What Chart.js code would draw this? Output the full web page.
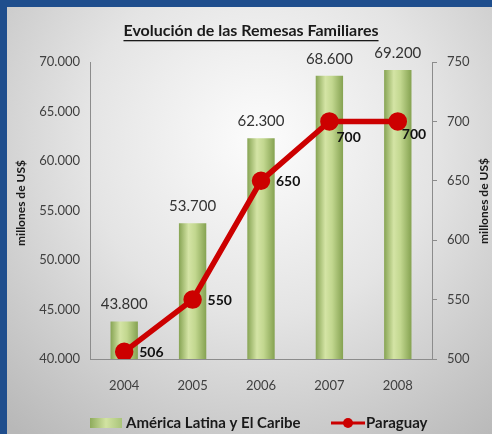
<!DOCTYPE html>
<html>
<head>
<meta charset="utf-8">
<script src="https://cdn.jsdelivr.net/npm/chart.js@4/dist/chart.umd.min.js"></script>
<style>
  html, body { margin: 0; padding: 0; background: #1f4e8d; }
  #wrap { width: 492px; height: 434px; }
</style>
</head>
<body>
<div id="wrap"><canvas id="remesasChart" width="492" height="434"></canvas></div>
<script>
// datos del gráfico
const years = ['2004', '2005', '2006', '2007', '2008'];
const latamValues = [43800, 53700, 62300, 68600, 69200];
const paraguayValues = [506, 550, 650, 700, 700];
const leftTicks = [40000, 45000, 50000, 55000, 60000, 65000, 70000];
const rightTicks = [500, 550, 600, 650, 700, 750];
// posición de la etiqueta de cada punto rojo
const paraguayLabelPos = ['right', 'right', 'right', 'below', 'below'];

const FONT = 'Lato, "Open Sans", sans-serif';

// separador de miles con punto
function fmt(n) {
  return String(n).replace(/\B(?=(\d{3})+(?!\d))/g, '.');
}

// fondo: marco azul + degradado gris
const fondo = {
  id: 'fondo',
  beforeDraw(chart) {
    const ctx = chart.ctx;
    ctx.save();
    ctx.fillStyle = '#1f4e8d';
    ctx.fillRect(0, 0, chart.width, chart.height);
    const g = ctx.createRadialGradient(260, 140, 10, 260, 140, 380);
    g.addColorStop(0, '#fbfbfb');
    g.addColorStop(0.45, '#e4e4e4');
    g.addColorStop(1, '#b8b8b8');
    ctx.fillStyle = g;
    ctx.fillRect(7, 7, chart.width - 7, chart.height - 7);
    ctx.restore();
  }
};

// textos: título, ejes, etiquetas de datos y leyenda
const textos = {
  id: 'textos',
  afterDraw(chart) {
    const ctx = chart.ctx;
    ctx.save();

    // título subrayado
    ctx.font = 'bold 16px ' + FONT;
    ctx.fillStyle = '#1a1a1a';
    ctx.textAlign = 'center';
    ctx.textBaseline = 'middle';
    const title = 'Evolución de las Remesas Familiares';
    ctx.fillText(title, 251, 31);
    const tw = ctx.measureText(title).width;
    ctx.fillRect(251 - tw / 2, 40, tw, 1.3);

    // títulos de ejes (ambos de abajo hacia arriba)
    ctx.font = 'bold 12px ' + FONT;
    [[21, 203], [484, 201]].forEach(([x, y]) => {
      ctx.save();
      ctx.translate(x, y);
      ctx.rotate(-Math.PI / 2);
      ctx.fillText('millones de US$', 0, 0);
      ctx.restore();
    });

    // etiquetas de barras
    const barMeta = chart.getDatasetMeta(0);
    ctx.font = '15px ' + FONT;
    ctx.fillStyle = '#333333';
    barMeta.data.forEach((bar, i) => {
      ctx.fillText(fmt(latamValues[i]), bar.x, bar.y - 17);
    });

    // etiquetas de la línea
    const lineMeta = chart.getDatasetMeta(1);
    ctx.font = 'bold 14px ' + FONT;
    ctx.fillStyle = '#111111';
    ctx.textAlign = 'left';
    lineMeta.data.forEach((pt, i) => {
      if (paraguayLabelPos[i] === 'right') {
        ctx.fillText(paraguayValues[i], pt.x + 15, pt.y + 1);
      } else {
        ctx.fillText(paraguayValues[i], pt.x + (i === 4 ? 4 : 7), pt.y + (i === 4 ? 13 : 16));
      }
    });

    // leyenda
    const ly = 423;
    const sw = ctx.createLinearGradient(90, 0, 122, 0);
    sw.addColorStop(0, '#8eab5c');
    sw.addColorStop(0.5, '#d2e3a2');
    sw.addColorStop(1, '#a9c47a');
    ctx.fillStyle = sw;
    ctx.fillRect(90, ly - 5, 32, 10);
    ctx.font = 'bold 15px ' + FONT;
    ctx.fillStyle = '#1a1a1a';
    ctx.fillText('América Latina y El Caribe', 126, ly);
    ctx.strokeStyle = '#cc0000';
    ctx.lineWidth = 3;
    ctx.beginPath();
    ctx.moveTo(331, ly);
    ctx.lineTo(365, ly);
    ctx.stroke();
    ctx.fillStyle = '#cc0000';
    ctx.beginPath();
    ctx.arc(348, ly, 5, 0, Math.PI * 2);
    ctx.fill();
    ctx.fillStyle = '#1a1a1a';
    ctx.fillText('Paraguay', 366, ly);

    ctx.restore();
  }
};

// degradado horizontal de cada barra
function barGradient(context) {
  const chart = context.chart;
  const xScale = chart.scales.x;
  if (!xScale || !chart.chartArea) return '#b5cc85';
  const cx = xScale.getPixelForValue(context.dataIndex);
  const half = 13.5;
  const g = chart.ctx.createLinearGradient(cx - half, 0, cx + half, 0);
  g.addColorStop(0, '#88a555');
  g.addColorStop(0.35, '#d4e4a5');
  g.addColorStop(0.6, '#c2d78f');
  g.addColorStop(1, '#86a352');
  return g;
}

const config = {
  type: 'bar',
  data: {
    labels: years,
    datasets: [
      {
        type: 'bar',
        label: 'América Latina y El Caribe',
        data: latamValues,
        yAxisID: 'y',
        backgroundColor: barGradient,
        borderWidth: 0,
        categoryPercentage: 1,
        barPercentage: 0.4,
        order: 1
      },
      {
        type: 'line',
        label: 'Paraguay',
        data: paraguayValues,
        yAxisID: 'y1',
        borderColor: '#cc0000',
        backgroundColor: '#cc0000',
        borderWidth: 5.5,
        pointRadius: 6.5,
        pointBackgroundColor: '#cc0000',
        pointBorderColor: '#cc0000',
        tension: 0,
        order: 0
      }
    ]
  },
  options: {
    responsive: false,
    animation: false,
    layout: { padding: { top: 62, left: 0, right: 0, bottom: 0 } },
    plugins: {
      legend: { display: false },
      tooltip: { enabled: false }
    },
    scales: {
      x: {
        grid: { display: false, drawTicks: false },
        border: { display: true, color: '#8c8c8c', width: 1 },
        ticks: { color: '#404040', font: { family: FONT, size: 13 }, padding: 19 },
        afterFit(scale) { scale.height = 75; }
      },
      y: {
        position: 'left',
        min: 40000,
        max: 70000,
        afterBuildTicks(scale) { scale.ticks = leftTicks.map(v => ({ value: v })); },
        grid: { display: false, drawTicks: false },
        border: { display: true, color: '#8c8c8c', width: 1 },
        ticks: {
          color: '#404040',
          font: { family: FONT, size: 13 },
          padding: 10,
          callback: (v) => fmt(v)
        },
        afterFit(scale) { scale.width = 90; }
      },
      y1: {
        position: 'right',
        min: 500,
        max: 750,
        afterBuildTicks(scale) { scale.ticks = rightTicks.map(v => ({ value: v })); },
        grid: { display: true, drawOnChartArea: false, drawTicks: true, tickLength: 5, color: '#8c8c8c' },
        border: { display: true, color: '#8c8c8c', width: 1 },
        ticks: { color: '#404040', font: { family: FONT, size: 13 }, padding: 10 },
        afterFit(scale) { scale.width = 60; }
      }
    }
  },
  plugins: [fondo, textos]
};

new Chart(document.getElementById('remesasChart'), config);
</script>
</body>
</html>
